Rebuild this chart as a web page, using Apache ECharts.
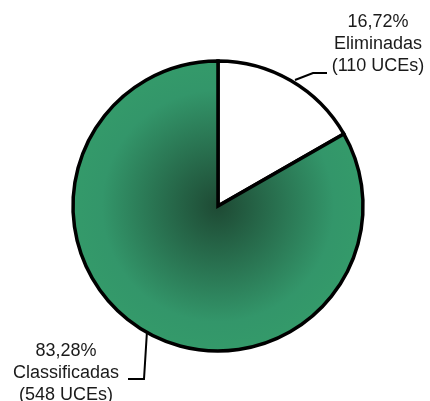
<!DOCTYPE html>
<html>
<head>
<meta charset="utf-8">
<script src="https://cdn.jsdelivr.net/npm/echarts@6/dist/echarts.min.js"></script>
<style>
  html, body { margin: 0; padding: 0; background: #fff; }
  #chart { width: 430px; height: 401px; }
</style>
</head>
<body>
<div id="chart"></div>
<script>
// UCE counts per group
const categories = ['Eliminadas', 'Classificadas'];
const counts = [110, 548];
const percentLabels = ['16,72%', '83,28%'];

const sliceStyles = [
  { color: '#ffffff' },
  {
    color: {
      type: 'radial', x: 218, y: 206, r: 145, global: true,
      colorStops: [
        { offset: 0, color: '#1e4a34' },
        { offset: 0.8, color: '#33966a' },
        { offset: 1, color: '#349a6a' }
      ]
    }
  }
];

// label anchor + leader line for each slice
const labelPlacement = [
  { x: 378, y: 44, line: [[295, 80], [313, 73], [327, 73]] },
  { x: 66, y: 373, line: [[147, 331], [144, 379], [128, 379]] }
];

const chart = echarts.init(document.getElementById('chart'), null, { renderer: 'canvas' });

chart.setOption({
  animation: false,
  series: [{
    type: 'pie',
    center: [218, 206],
    radius: 145,
    startAngle: 90,
    clockwise: true,
    silent: true,
    itemStyle: { borderColor: '#000', borderWidth: 3.5, borderJoin: 'miter' },
    label: {
      show: true,
      position: 'outside',
      color: '#1a1a1a',
      fontFamily: 'Liberation Sans, Arial, sans-serif',
      fontSize: 18,
      lineHeight: 22,
      align: 'center',
      overflow: 'none',
      width: 160,
      formatter: p => percentLabels[p.dataIndex] + '\n' + p.name + '\n(' + p.value + ' UCEs)'
    },
    labelLine: { show: true, lineStyle: { color: '#000', width: 2 } },
    labelLayout: p => {
      const lp = labelPlacement[p.dataIndex];
      return { x: lp.x, y: lp.y, align: 'center', verticalAlign: 'middle', labelLinePoints: lp.line };
    },
    data: categories.map((name, i) => ({ name, value: counts[i], itemStyle: sliceStyles[i] }))
  }]
});
</script>
</body>
</html>
